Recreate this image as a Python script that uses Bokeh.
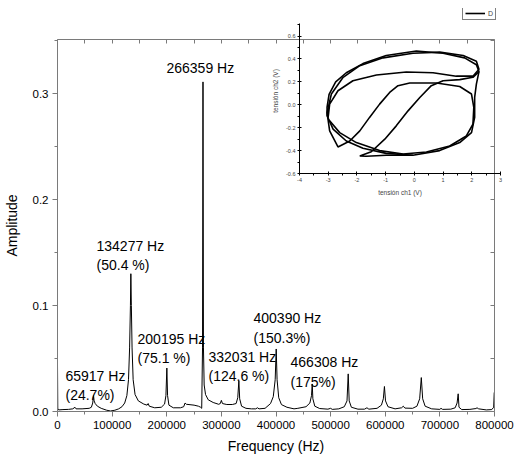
from bokeh.plotting import figure
from bokeh.models import (Range1d, LinearAxis, FixedTicker, PrintfTickFormatter,
                          Legend, LegendItem, ColumnDataSource)
from bokeh.layouts import column
from bokeh.embed import file_html
from bokeh.resources import INLINE
from bokeh.core.properties import value

# ---------------- main spectrum data ----------------
freq_hz = [0, 500, 2000, 10000, 20000, 28000, 32000, 34000, 45000, 58000, 62000, 64500,
           65917, 67000, 69000, 73000, 80000, 90000, 97000, 105000, 112000, 118000,
           123000, 127000, 130000, 132000, 133500, 134277, 135200, 136500, 138500,
           142000, 148000, 158000, 164000, 166000, 168000, 178000, 190000, 196000,
           198500, 200195, 201500, 204000, 212000, 225000, 231000, 233500, 236000,
           250000, 258000, 262000, 264000, 265500, 266359, 267200, 268500, 271000,
           276000, 285000, 295000, 298000, 300000, 302000, 310000, 320000, 327000,
           330000, 332031, 333500, 337000, 345000, 355000, 363000, 366000, 369000,
           380000, 390000, 395000, 398500, 400390, 402000, 405000, 410000, 420000,
           433000, 440000, 455000, 462000, 465000, 466308, 467500, 471000, 480000,
           495000, 500000, 503000, 515000, 525000, 530000, 532200, 534000, 538000,
           550000, 562000, 566500, 570000, 585000, 593000, 596500, 598500, 600500,
           605000, 618000, 630000, 633000, 636000, 650000, 658000, 663000, 666000,
           668500, 673000, 685000, 700000, 702000, 705000, 720000, 728000, 731500,
           733500, 735000, 740000, 755000, 766000, 768000, 771000, 785000, 795000,
           798500, 799500, 800000]
amplitude = [0.044, 0.003, 0.0015, 0.0018, 0.002, 0.0025, 0.004, 0.0025, 0.0025, 0.003,
             0.004, 0.008, 0.015, 0.010, 0.0075, 0.005, 0.003, 0.0012, 0.0005, 0.0012,
             0.0025, 0.0045, 0.008, 0.015, 0.03, 0.06, 0.10, 0.13, 0.10, 0.06, 0.03,
             0.016, 0.01, 0.007, 0.006, 0.0075, 0.005, 0.0035, 0.004, 0.007, 0.015,
             0.041, 0.015, 0.006, 0.0035, 0.0035, 0.0045, 0.008, 0.0068, 0.006, 0.005,
             0.004, 0.003, 0.06, 0.311, 0.06, 0.025, 0.016, 0.011, 0.0085, 0.0068,
             0.0075, 0.0105, 0.0075, 0.0066, 0.0066, 0.0075, 0.013, 0.029, 0.012, 0.005,
             0.003, 0.0025, 0.0025, 0.0035, 0.0025, 0.003, 0.0075, 0.014, 0.03, 0.059,
             0.03, 0.013, 0.0065, 0.004, 0.0025, 0.003, 0.0045, 0.008, 0.015, 0.026,
             0.012, 0.005, 0.0028, 0.0022, 0.003, 0.002, 0.0025, 0.0045, 0.01, 0.0355,
             0.01, 0.004, 0.0022, 0.0022, 0.0035, 0.0022, 0.003, 0.006, 0.012, 0.0236,
             0.01, 0.0045, 0.0025, 0.0035, 0.005, 0.0032, 0.003, 0.005, 0.012, 0.032,
             0.012, 0.005, 0.0025, 0.002, 0.003, 0.002, 0.0022, 0.0035, 0.008, 0.0167,
             0.004, 0.0018, 0.002, 0.0028, 0.0035, 0.0025, 0.0015, 0.0018, 0.004, 0.018,
             0.018]

x_ticks = [0, 100000, 200000, 300000, 400000, 500000, 600000, 700000, 800000]
x_minor = [50000, 150000, 250000, 350000, 450000, 550000, 650000, 750000]
y_ticks = [0.0, 0.1, 0.2, 0.3]
y_minor = [0.05, 0.15, 0.25, 0.35]

ann_text = ["266359 Hz", "134277 Hz\n(50.4 %)", "65917 Hz\n(24.7%)",
            "200195 Hz\n(75.1 %)", "332031 Hz\n(124.6 %)", "400390 Hz\n(150.3%)",
            "466308 Hz\n(175%)"]
ann_x = [199500, 71400, 14600, 146500, 276400, 358800, 426600]
ann_y = [0.332, 0.164, 0.0415, 0.0764, 0.0594, 0.0953, 0.0538]

# ---------------- inset (Lissajous) data ----------------
loop_a_x = [-3.04, -2.97, -2.74, -2.37, -1.79, -0.98, 0.07, 1.00, 1.75, 2.16, 2.25, 2.16,
            2.10, 2.10, 1.99, 1.58, 0.88, -0.05, -0.98, -1.79, -2.37, -2.83, -3.04, -3.04]
loop_a_y = [-0.02, 0.09, 0.20, 0.28, 0.36, 0.43, 0.47, 0.45, 0.41, 0.35, 0.29, 0.18,
            0.065, -0.11, -0.243, -0.33, -0.40, -0.44, -0.424, -0.38, -0.316, -0.213,
            -0.096, -0.02]
loop_b_x = [-3.01, -2.95, -2.66, -2.14, -1.32, -0.28, 0.65, 1.46, 2.04, 2.25, 2.16, 1.70,
            0.88, -0.05, -1.09, -1.90, -2.48, -2.89, -3.04, -2.95, -2.66, -2.25, -1.90,
            -1.56, -1.21, -0.86, -0.57, -0.16, 0.77, 1.58, 1.99, 2.07, 2.04, 1.81, 1.23,
            0.42, -0.39, -1.21, -2.02, -2.60, -2.95, -3.01]
loop_b_y = [-0.126, 0.006, 0.123, 0.21, 0.26, 0.287, 0.28, 0.25, 0.25, 0.31, 0.38, 0.43,
            0.46, 0.45, 0.41, 0.342, 0.24, 0.094, -0.068, -0.228, -0.368, -0.316, -0.228,
            -0.11, 0.006, 0.108, 0.167, 0.19, 0.19, 0.16, 0.094, -0.023, -0.17, -0.272,
            -0.36, -0.412, -0.43, -0.40, -0.33, -0.243, -0.14, -0.126]
loop_c_x = [-0.05, -0.98, -1.67, -1.90, -1.50, -1.03, -0.63, -0.22, 0.19, 0.59, 1.00,
            1.58, 2.04, 2.25]
loop_c_y = [-0.44, -0.44, -0.45, -0.447, -0.41, -0.30, -0.184, -0.053, 0.064, 0.167,
            0.21, 0.22, 0.24, 0.29]

ins_x_ticks = [-4, -3, -2, -1, 0, 1, 2, 3]
ins_x_minor = [-3.5, -2.5, -1.5, -0.5, 0.5, 1.5, 2.5]
ins_y_ticks = [-0.6, -0.4, -0.2, 0.0, 0.2, 0.4, 0.6]
ins_y_minor = [-0.5, -0.3, -0.1, 0.1, 0.3, 0.5, 0.7]

FONT = "Liberation Sans"
GREY = "#7a7a7a"

# ---------------- main figure ----------------
p = figure(frame_width=437, frame_height=372,
           x_range=Range1d(0, 800000), y_range=Range1d(0, 0.351),
           output_backend="svg", toolbar_location=None,
           min_border_left=57, min_border_right=20, min_border_top=39, min_border_bottom=48)
p.grid.visible = False
p.outline_line_color = None

xa = p.xaxis[0]
ya = p.yaxis[0]
xa.ticker = FixedTicker(ticks=x_ticks, minor_ticks=x_minor)
ya.ticker = FixedTicker(ticks=y_ticks, minor_ticks=y_minor)
xa.formatter = PrintfTickFormatter(format="%d")
ya.formatter = PrintfTickFormatter(format="%.1f")
xa.axis_label = "Frequency (Hz)"
ya.axis_label = "Amplitude"
for ax in (xa, ya):
    ax.axis_line_color = GREY
    ax.major_tick_line_color = GREY
    ax.minor_tick_line_color = GREY
    ax.major_tick_in = 0
    ax.major_tick_out = 5
    ax.minor_tick_in = 0
    ax.minor_tick_out = 3
    ax.major_label_text_font = FONT
    ax.major_label_text_font_size = "11.5px"
    ax.major_label_text_color = "black"
    ax.axis_label_text_font = FONT
    ax.axis_label_text_font_size = "14px"
    ax.axis_label_text_font_style = "normal"
    ax.axis_label_text_color = "black"
    ax.major_label_standoff = 4
xa.axis_label_standoff = 6
ya.axis_label_standoff = 10

# top and right frame axes: ticks only (minor ticks carry no labels)
top_ax = LinearAxis(ticker=FixedTicker(ticks=[], minor_ticks=x_ticks + x_minor),
                    axis_line_color=GREY, minor_tick_line_color=GREY,
                    minor_tick_in=4, minor_tick_out=0, major_tick_in=0, major_tick_out=0)
right_ax = LinearAxis(ticker=FixedTicker(ticks=[], minor_ticks=y_ticks + y_minor),
                      axis_line_color=GREY, minor_tick_line_color=GREY,
                      minor_tick_in=4, minor_tick_out=0, major_tick_in=0, major_tick_out=0)
p.add_layout(top_ax, "above")
p.add_layout(right_ax, "right")

p.line(freq_hz, amplitude, line_color="black", line_width=1)

src = ColumnDataSource(dict(x=ann_x, y=ann_y, t=ann_text))
p.text(x="x", y="y", text="t", source=src, text_font=value(FONT), text_font_size="14px",
       text_baseline="top", text_align="left", text_color="black", text_line_height=1.2)

# ---------------- inset figure ----------------
q = figure(frame_width=201, frame_height=165,
           x_range=Range1d(-4, 3), y_range=Range1d(-0.6, 0.841),
           output_backend="svg", toolbar_location=None,
           min_border_left=57, min_border_right=14, min_border_top=8, min_border_bottom=30,
           background_fill_alpha=0, border_fill_alpha=0)
q.grid.visible = False
q.outline_line_color = None
q.margin = (-459, 0, 0, 242)

qx = q.xaxis[0]
qy = q.yaxis[0]
qx.ticker = FixedTicker(ticks=ins_x_ticks, minor_ticks=ins_x_minor)
qy.ticker = FixedTicker(ticks=ins_y_ticks, minor_ticks=ins_y_minor)
qy.bounds = (-0.6, 0.71)
qx.formatter = PrintfTickFormatter(format="%d")
qy.formatter = PrintfTickFormatter(format="%.1f")
qx.axis_label = "tensión ch1 (V)"
qy.axis_label = "tensión ch2 (V)"
for ax in (qx, qy):
    ax.axis_line_color = "black"
    ax.major_tick_line_color = "black"
    ax.minor_tick_line_color = "black"
    ax.major_tick_in = 2
    ax.major_tick_out = 2
    ax.minor_tick_in = 0
    ax.minor_tick_out = 2
    ax.major_label_text_font = FONT
    ax.major_label_text_font_size = "5.5px"
    ax.major_label_standoff = 2
    ax.axis_label_text_font = FONT
    ax.axis_label_text_font_size = "6.5px"
    ax.axis_label_text_font_style = "normal"
    ax.axis_label_standoff = 4

r1 = q.line(loop_a_x, loop_a_y, line_color="black", line_width=1.6)
q.line(loop_b_x, loop_b_y, line_color="black", line_width=1.6)
q.line(loop_c_x, loop_c_y, line_color="black", line_width=1.6)

leg = Legend(items=[LegendItem(label="D", renderers=[r1])], location=(163, 153),
             label_text_font=FONT, label_text_font_size="7px", glyph_width=20,
             glyph_height=8, label_height=8, label_width=5, label_standoff=3, padding=2,
             spacing=0, margin=0, border_line_color="black", border_line_width=1,
             background_fill_color="white", background_fill_alpha=1)
q.add_layout(leg)

layout = column(p, q, spacing=0)

with open("out.html", "w") as f:
    f.write(file_html(layout, INLINE))
